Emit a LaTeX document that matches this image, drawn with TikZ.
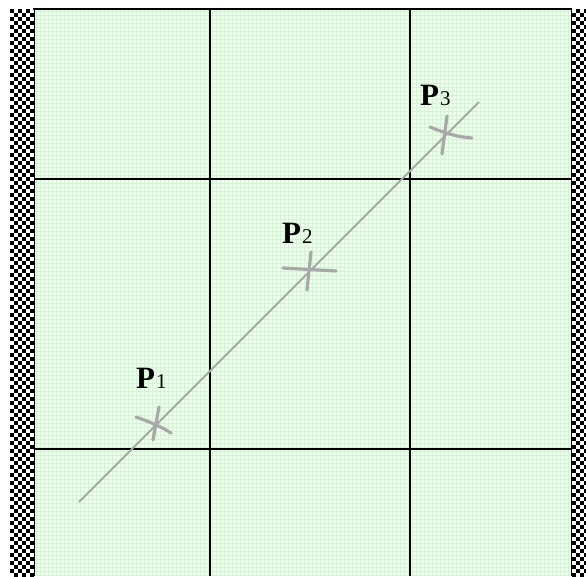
\documentclass[tikz,border=0pt]{standalone}
\usepackage{fontspec}
\setmainfont{Liberation Serif}
\definecolor{mint}{HTML}{F0FCF0}
\definecolor{gridg}{HTML}{D2F4D2}
\definecolor{mk}{HTML}{A8A8A8}
\tikzset{
  fine/.style={gridg, line width=0.6pt},
  major/.style={black, line width=1.6pt},
  pline/.style={mk, line width=2pt},
  tick/.style={mk, line width=3.2pt, line cap=round},
  plabel/.style={anchor=base west, inner sep=0pt, font=\fontsize{31}{31}\selectfont\bfseries}
}
\begin{document}
\begin{tikzpicture}[x=1pt,y=-1pt]
\useasboundingbox (0,0) rectangle (586,576);
\fill[white] (0,0) rectangle (586,576);
% background
\fill[mint] (34,9) rectangle (572,576);
\foreach \x in {36,40,...,570} \draw[fine] (\x,9) -- (\x,576);
\foreach \y in {11,15,...,575} \draw[fine] (34,\y) -- (572,\y);
% checker strips
\fill[white] (10,9) rectangle (34,576);
\fill[white] (572,9) rectangle (586,576);
\foreach \j in {0,...,141}{
  \foreach \i in {0,...,5}{
    \pgfmathtruncatemacro\p{mod(\i+\j,2)}
    \ifnum\p=0 \fill[black] ({10+4*\i},{9+4*\j}) rectangle ++(4,4);\fi
  }
  \foreach \i in {0,...,3}{
    \pgfmathtruncatemacro\p{mod(\i+\j,2)}
    \ifnum\p=1 \fill[black] ({572+4*\i},{9+4*\j}) rectangle ++(4,4);\fi
  }
}
% frame
\draw[black, line width=1.2pt] (33,9) -- (572,9);
\draw[black, line width=0.8pt] (34,9) -- (34,576);
\draw[black, line width=0.8pt] (571.5,9) -- (571.5,576);
% major grid
\draw[major] (210,9) -- (210,576);
\draw[major] (410,9) -- (410,576);
\draw[major] (34,179) -- (572,179);
\draw[major] (34,449) -- (572,449);
% line
\coordinate (a) at (79,502);
\coordinate (b) at (479,102);
\draw[pline] (a) -- (b);
% marks
\draw[tick] (136,417) .. controls (150,422) and (162,427) .. (171,433);
\draw[tick] (159,407) -- (153,440);
\draw[tick] (283,268) -- (336,271);
\draw[tick] (311,252) -- (307,290);
\draw[tick] (430,127) .. controls (440,131) and (455,137) .. (472,138);
\draw[tick] (447,116) -- (442,154);
% labels
\node[plabel] (p1) at (136,388) {P\kern1pt\fontsize{21}{21}\selectfont\mdseries 1};
\node[plabel] (p2) at (282,243) {P\kern1pt\fontsize{21}{21}\selectfont\mdseries 2};
\node[plabel] (p3) at (420,105) {P\kern1pt\fontsize{21}{21}\selectfont\mdseries 3};
\end{tikzpicture}
\end{document}
